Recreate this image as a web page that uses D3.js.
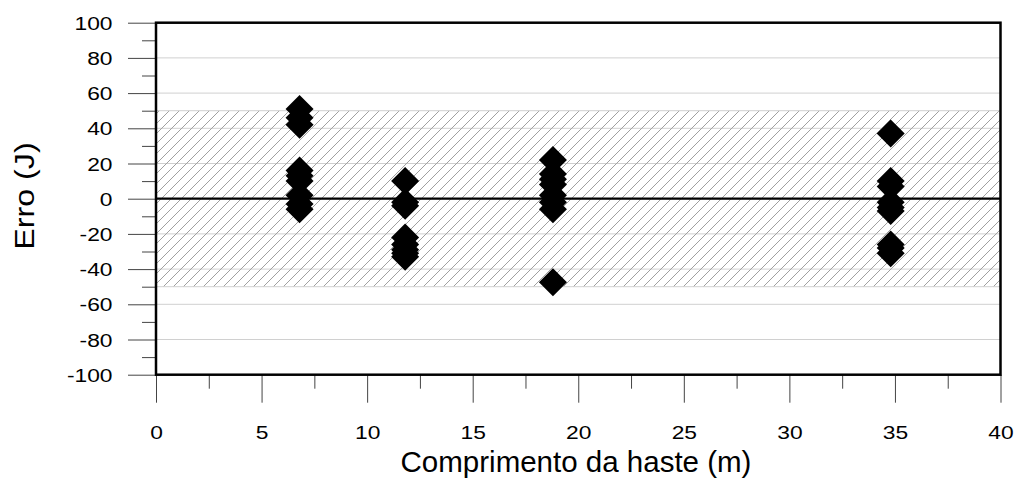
<!DOCTYPE html>
<html>
<head>
<meta charset="utf-8">
<script src="https://cdn.jsdelivr.net/npm/d3@7"></script>
<style>
  html, body { margin: 0; padding: 0; background: #fff; }
  svg { display: block; }
  text { font-family: "Liberation Sans", Arial, sans-serif; fill: #000; }
</style>
</head>
<body>
<svg id="chart" width="1015" height="486"></svg>
<script>
// ---- Data ----
const xTicks = [0, 5, 10, 15, 20, 25, 30, 35, 40];
const yTicks = [-100, -80, -60, -40, -20, 0, 20, 40, 60, 80, 100];
const lengths = [6.8, 11.8, 18.8, 34.8];
const errors68 = [51, 46, 42, 16, 13, 10, 2, -3, -6];
const errors118 = [10, -2, -4, -22, -26, -29, -31, -33];
const errors188 = [22, 14, 11, 8, 2, -2, -6, -47.5];
const errors348 = [37, 10, 7, -2, -5, -7, -26, -28, -31];
const bandLimits = [-50, 50];
const xLabel = "Comprimento da haste (m)";
const yLabel = "Erro (J)";

const points = [];
[errors68, errors118, errors188, errors348].forEach((arr, i) => {
  arr.forEach(v => points.push({ x: lengths[i], y: v }));
});

// ---- Layout ----
const svg = d3.select("#chart");
const L = 156, R = 1000.5, T = 22.7, B = 374.7;
const x = d3.scaleLinear().domain([0, 40]).range([L, R]);
const y = d3.scaleLinear().domain([-100, 100]).range([B, T]);
const SX = 1.2; // horizontal stretch of tick labels

// hatch pattern
const defs = svg.append("defs");
const pat = defs.append("pattern")
  .attr("id", "hatch").attr("patternUnits", "userSpaceOnUse")
  .attr("width", 10).attr("height", 10);
pat.append("path").attr("d", "M-1,1 L1,-1 M0,10 L10,0 M9,11 L11,9")
  .attr("stroke", "#a0a0a0").attr("stroke-width", 1);

// gridlines
svg.append("g").selectAll("line").data(yTicks.filter(d => d > -100 && d < 100))
  .join("line")
  .attr("x1", L).attr("x2", R)
  .attr("y1", d => y(d)).attr("y2", d => y(d))
  .attr("stroke", "#d0d0d0").attr("stroke-width", 1);

// hatched band
svg.append("rect")
  .attr("x", L).attr("width", R - L)
  .attr("y", y(bandLimits[1])).attr("height", y(bandLimits[0]) - y(bandLimits[1]))
  .attr("fill", "url(#hatch)")
  .attr("stroke", "#d0d0d0").attr("stroke-width", 1);

// zero line
svg.append("line")
  .attr("x1", L).attr("x2", R).attr("y1", y(0)).attr("y2", y(0))
  .attr("stroke", "#000").attr("stroke-width", 2.2);

// axes
const fmt = d => String(d);
const yAxis = d3.axisLeft(y).tickValues(yTicks).tickSize(28).tickFormat(fmt);
const yMinor = d3.axisLeft(y).tickValues(d3.range(-90, 100, 20)).tickSize(14).tickFormat("");
const xAxis = d3.axisBottom(x).tickValues(xTicks).tickSize(28).tickFormat(fmt);
const xMinor = d3.axisBottom(x).tickValues(d3.range(2.5, 40, 5)).tickSize(14).tickFormat("");

function styleAxis(g) {
  g.select(".domain").remove();
  g.selectAll(".tick line").attr("stroke", "#444").attr("stroke-width", 1);
  g.selectAll(".tick text").attr("font-size", 19).attr("fill", "#000")
    .style("font-family", "'Liberation Sans', Arial, sans-serif");
}
svg.append("g").attr("transform", `translate(${L},0)`).call(yAxis).call(styleAxis)
  .selectAll(".tick text")
  .attr("x", -43.5 / SX).attr("dy", "0.35em")
  .attr("transform", `scale(${SX},1)`);
svg.append("g").attr("transform", `translate(${L},0)`).call(yMinor).call(styleAxis);
svg.append("g").attr("transform", `translate(0,${B})`).call(xAxis).call(styleAxis)
  .selectAll(".tick text")
  .attr("y", 64.5).attr("dy", null)
  .attr("transform", `scale(${SX},1)`);
svg.append("g").attr("transform", `translate(0,${B})`).call(xMinor).call(styleAxis);

// frame
svg.append("rect")
  .attr("x", L).attr("y", T).attr("width", R - L).attr("height", B - T)
  .attr("fill", "none").attr("stroke", "#000").attr("stroke-width", 2.5);

// points
const s = 14;
svg.append("g").selectAll("path").data(points).join("path")
  .attr("transform", d => `translate(${x(d.x)},${y(d.y)})`)
  .attr("d", `M0,${-s} L${s},0 L0,${s} L${-s},0 Z`)
  .attr("fill", "#000");

// labels
svg.append("text")
  .attr("x", 576).attr("y", 472)
  .attr("text-anchor", "middle").attr("font-size", 29.5)
  .text(xLabel);
svg.append("text")
  .attr("transform", `translate(${34},${196}) rotate(-90) scale(1.15,1)`)
  .attr("text-anchor", "middle").attr("font-size", 28)
  .text(yLabel);
</script>
</body>
</html>
